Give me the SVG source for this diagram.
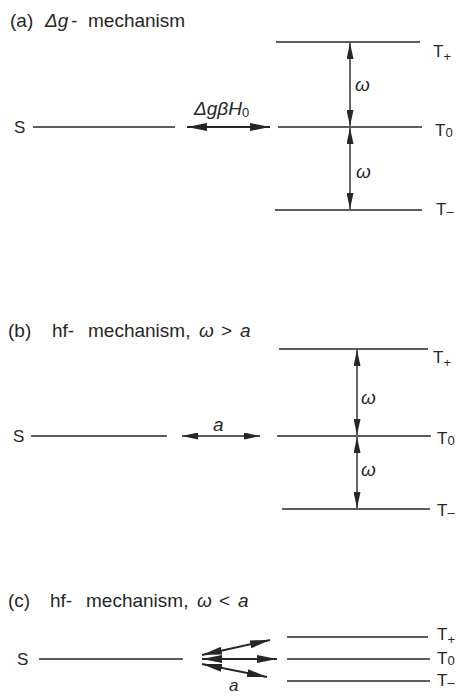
<svg xmlns="http://www.w3.org/2000/svg" width="466" height="697" viewBox="0 0 466 697">
<style>
text{font-family:"Liberation Sans","DejaVu Sans",sans-serif;fill:#262626}
.t{font-size:19px}
.l{font-size:17px}
.w{font-size:19px}
.sub{font-size:13px}
.i{font-style:italic}
.lev{stroke:#262626;stroke-width:1.6;fill:none}
.lev2{stroke:#262626;stroke-width:1.3;fill:none}
.arr{stroke:#262626;stroke-width:1.4;fill:none;marker-start:url(#ah);marker-end:url(#ah)}
.arrh{stroke:#262626;stroke-width:2;fill:none;marker-start:url(#ahb);marker-end:url(#ahb)}
</style>
<defs>
<marker id="ah" viewBox="0 0 16 7" refX="16" refY="3.5" markerWidth="16" markerHeight="7" markerUnits="userSpaceOnUse" orient="auto-start-reverse"><path d="M0,0 L16,3.5 L0,7 z" fill="#262626"/></marker>
<marker id="ahb" viewBox="0 0 20 8" refX="20" refY="4" markerWidth="20" markerHeight="8" markerUnits="userSpaceOnUse" orient="auto-start-reverse"><path d="M0,0 L20,4 L0,8 z" fill="#262626"/></marker>
</defs>
<rect width="466" height="697" fill="#fff"/>

<!-- Panel a -->
<g id="title-a"><text class="t" y="27"><tspan x="10">(a)</tspan><tspan x="45" class="i">Δg</tspan><tspan x="71">-</tspan><tspan x="88">mechanism</tspan></text></g>
<g id="a-S"><text class="l" x="14" y="133">S</text><line class="lev" x1="33" y1="127" x2="175" y2="127"/></g>
<g id="a-Tp"><line class="lev" x1="276" y1="42" x2="420" y2="42"/><text class="l" x="433" y="57">T<tspan class="sub" dy="4">+</tspan></text></g>
<g id="a-T0"><line class="lev" x1="278" y1="127" x2="422" y2="127"/><text class="l" x="435" y="136">T<tspan class="sub" dy="1">0</tspan></text></g>
<g id="a-Tm"><line class="lev" x1="275" y1="210" x2="422" y2="210"/><text class="l" x="436" y="215">T<tspan class="sub" dy="1">–</tspan></text></g>
<g id="a-labels">
<text class="w i" x="194" y="115">ΔgβH<tspan class="sub" font-style="normal" dy="2">0</tspan></text>
<text class="w i" x="355" y="91">ω</text>
<text class="w i" x="356" y="178">ω</text>
</g>

<!-- Panel b -->
<g id="title-b"><text class="t" y="337"><tspan x="8">(b)</tspan><tspan x="52">hf-</tspan><tspan x="88">mechanism,</tspan><tspan x="199" class="i">ω</tspan><tspan x="221">&gt;</tspan><tspan x="240" class="i">a</tspan></text></g>
<g id="b-S"><text class="l" x="13" y="442">S</text><line class="lev2" x1="31" y1="436" x2="167" y2="436"/></g>
<g id="b-Tp"><line class="lev" x1="279" y1="349" x2="428" y2="349"/><text class="l" x="433" y="363">T<tspan class="sub" dy="4">+</tspan></text></g>
<g id="b-T0"><line class="lev2" x1="277" y1="436" x2="431" y2="436"/><text class="l" x="437" y="444">T<tspan class="sub" dy="1">0</tspan></text></g>
<g id="b-Tm"><line class="lev2" x1="282" y1="509" x2="430" y2="509"/><text class="l" x="437" y="516">T<tspan class="sub" dy="1">–</tspan></text></g>
<g id="b-labels">
<text class="w i" x="213" y="431">a</text>
<text class="w i" x="361" y="404">ω</text>
<text class="w i" x="361" y="476">ω</text>
</g>

<!-- Panel c -->
<g id="title-c"><text class="t" y="607"><tspan x="8">(c)</tspan><tspan x="50">hf-</tspan><tspan x="86">mechanism,</tspan><tspan x="197" class="i">ω</tspan><tspan x="219">&lt;</tspan><tspan x="238" class="i">a</tspan></text></g>
<g id="c-S"><text class="l" x="17" y="665">S</text><line class="lev2" x1="39" y1="659" x2="183" y2="659"/></g>
<g id="c-Tp"><line class="lev2" x1="287" y1="637" x2="428" y2="637"/><text class="l" x="437" y="640">T<tspan class="sub" dy="4">+</tspan></text></g>
<g id="c-T0"><line class="lev2" x1="287" y1="659" x2="430" y2="659"/><text class="l" x="437" y="664">T<tspan class="sub" dy="1">0</tspan></text></g>
<g id="c-Tm"><line class="lev2" x1="287" y1="681" x2="430" y2="681"/><text class="l" x="437" y="686">T<tspan class="sub" dy="1">–</tspan></text></g>
<g id="c-labels"><text class="l i" x="229" y="691">a</text></g>

<!-- Connectors -->
<g id="connectors">
<line class="arrh" x1="187" y1="127" x2="270" y2="127"/>
<line class="arr" x1="350" y1="43" x2="350" y2="126"/>
<line class="arr" x1="350" y1="128" x2="350" y2="209"/>
<line class="arr" x1="182" y1="436" x2="260" y2="436"/>
<line class="arr" x1="357" y1="350" x2="357" y2="435"/>
<line class="arr" x1="357" y1="437" x2="357" y2="508"/>
<line class="arrh" x1="202" y1="655" x2="270" y2="640"/>
<line class="arrh" x1="202" y1="659" x2="277" y2="659"/>
<line class="arrh" x1="202" y1="664" x2="267" y2="677"/>
</g>
</svg>
